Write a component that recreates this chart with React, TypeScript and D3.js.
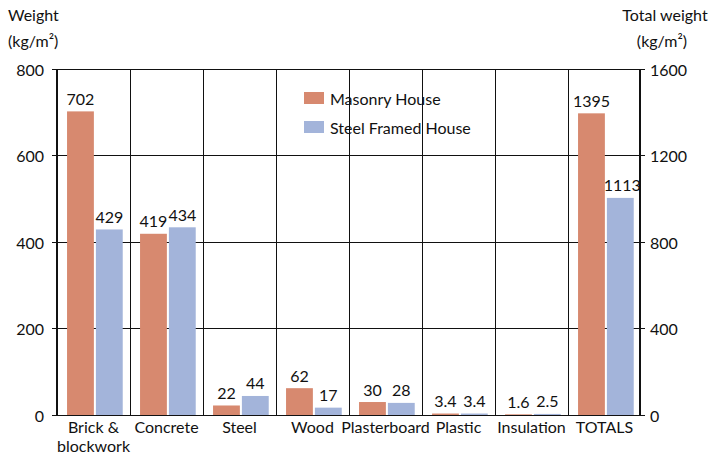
import React from "react";
import * as d3 from "d3";

const categories = ["Brick &\nblockwork", "Concrete", "Steel", "Wood", "Plasterboard", "Plastic", "Insulation", "TOTALS"];
const masonryValues = [702, 419, 22, 62, 30, 3.4, 1.6, 1395];
const steelValues = [429, 434, 44, 17, 28, 3.4, 2.5, 1004];
const masonryLabels = ["702", "419", "22", "62", "30", "3.4", "1.6", "1395"];
const steelLabels = ["429", "434", "44", "17", "28", "3.4", "2.5", "1113"];
const leftTicks = [0, 200, 400, 600, 800];
const rightTicks = [0, 400, 800, 1200, 1600];
const seriesNames = ["Masonry House", "Steel Framed House"];

const COLORS = ["#d7896f", "#a3b4da"];
const FONT = "Lato, 'Open Sans', sans-serif";
const FS = 16;

export default function App() {
  const W = 710, H = 456;
  const left = 57, right = 640, top = 69, bottom = 415;
  const x = d3.scaleBand<string>().domain(categories).range([left, right + 1]).padding(0);
  const sub = d3.scaleBand<string>().domain(["m", "s"]).range([0, x.bandwidth()]).paddingInner(0.07).paddingOuter(0.3).align(0.58);
  const yL = d3.scaleLinear().domain([0, 800]).range([bottom, top]);
  const yR = d3.scaleLinear().domain([0, 1600]).range([bottom, top]);
  const lastIdx = categories.length - 1;
  const yFor = (i: number) => (i === lastIdx ? yR : yL);

  const bars: any[] = [];
  categories.forEach((c, i) => {
    const ys = yFor(i);
    [masonryValues[i], steelValues[i]].forEach((v, j) => {
      const bx = (x(c) as number) + (sub(j === 0 ? "m" : "s") as number);
      const bt = ys(v);
      bars.push(
        <rect key={`b${i}-${j}`} x={bx} y={bt} width={sub.bandwidth()} height={bottom - bt} fill={COLORS[j]} />
      );
      const lbl = j === 0 ? masonryLabels[i] : steelLabels[i];
      bars.push(
        <text key={`t${i}-${j}`} x={bx + sub.bandwidth() / 2 + (i === lastIdx && j === 1 ? 2 : 0)} y={bt - 13} textAnchor="middle" dominantBaseline="central" fontSize={FS} fill="#111">
          {lbl}
        </text>
      );
    });
  });

  return (
    <svg width={W} height={H} style={{ position: "absolute", left: 0, top: 0, background: "#fff" }} fontFamily={FONT}>
      {leftTicks.map((t) => (
        <line key={`h${t}`} x1={left - 5} x2={right + 5} y1={yL(t)} y2={yL(t)} stroke="#111" strokeWidth={1} shapeRendering="crispEdges" />
      ))}
      {categories.map((c, i) => (
        <line key={`v${i}`} x1={x(c) as number} x2={x(c) as number} y1={top} y2={bottom} stroke="#111" strokeWidth={i === 0 ? 1.5 : 1} shapeRendering="crispEdges" />
      ))}
      <line x1={right} x2={right} y1={top} y2={bottom} stroke="#111" strokeWidth={1.5} shapeRendering="crispEdges" />
      {bars}
      {seriesNames.map((n, j) => (
        <g key={n}>
          <rect x={304} y={92 + j * 29} width={20} height={12} fill={COLORS[j]} />
          <text x={330} y={98 + j * 29} dominantBaseline="central" fontSize={FS} fill="#111">{n}</text>
        </g>
      ))}
      {leftTicks.map((t) => (
        <text key={`lt${t}`} x={44} y={yL(t)} textAnchor="end" dominantBaseline="central" fontSize={FS} fill="#111">{t}</text>
      ))}
      {rightTicks.map((t) => (
        <text key={`rt${t}`} x={650} y={yR(t)} textAnchor="start" dominantBaseline="central" fontSize={FS} fill="#111">{t}</text>
      ))}
      {categories.map((c) => {
        const lines = c.split("\n");
        const cx = (x(c) as number) + x.bandwidth() / 2;
        return lines.map((l, k) => (
          <text key={`c${c}-${k}`} x={cx} y={433 + k * 19} textAnchor="middle" fontSize={FS} fill="#111">{l}</text>
        ));
      })}
      <text x={8} y={21} fontSize={FS} fill="#111">Weight</text>
      <text x={8} y={47} fontSize={FS} fill="#111">(kg/m²)</text>
      <text x={665} y={21} textAnchor="middle" fontSize={FS} fill="#111">Total weight</text>
      <text x={662} y={47} textAnchor="middle" fontSize={FS} fill="#111">(kg/m²)</text>
    </svg>
  );
}
